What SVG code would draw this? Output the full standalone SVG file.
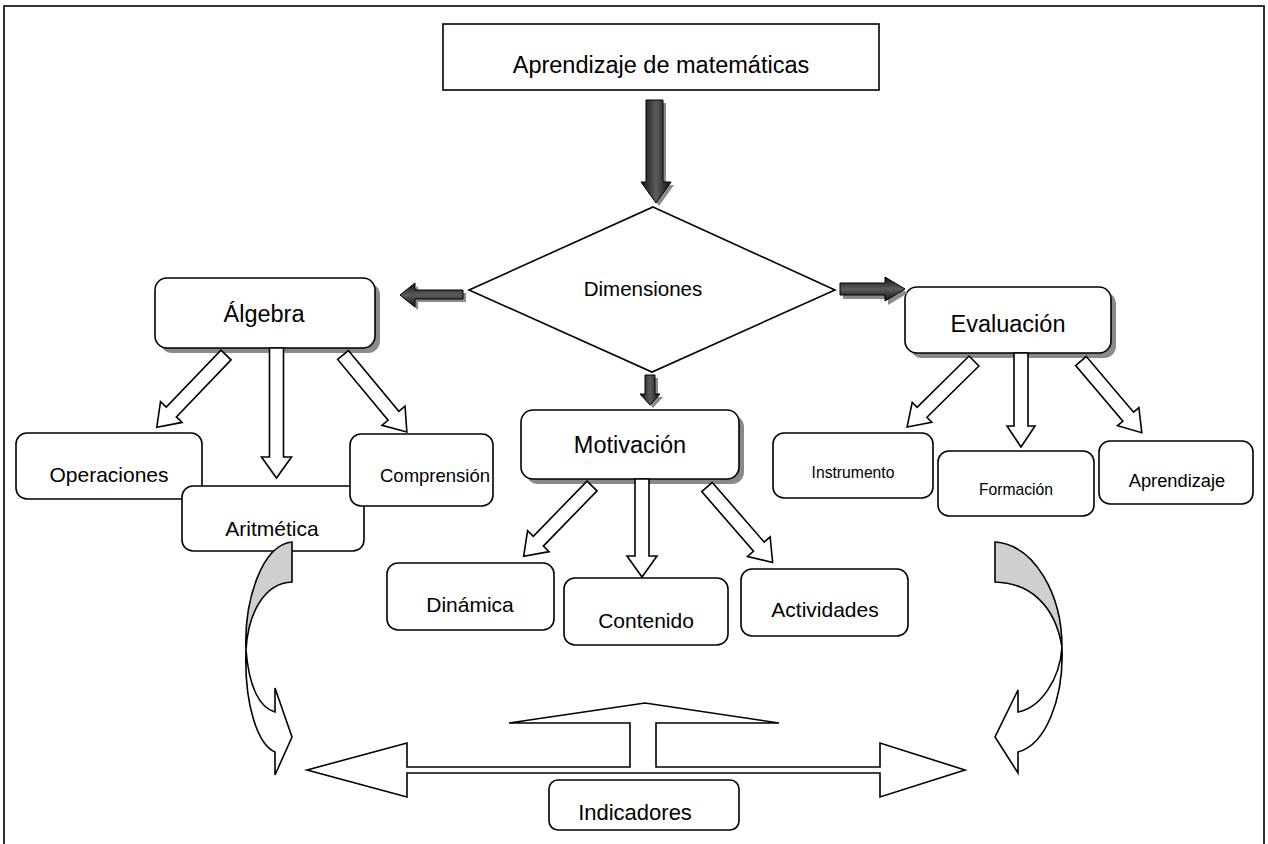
<svg xmlns="http://www.w3.org/2000/svg" width="1268" height="844" viewBox="0 0 1268 844">
<defs>
<style>
.box{fill:#fff;stroke:#000;stroke-width:1.6}
.shadow{fill:#8a8a8a;stroke:none}
.t{font-family:"Liberation Sans",Arial,sans-serif;fill:#000;text-anchor:middle}
.ha{fill:#fff;stroke:#000;stroke-width:1.6;stroke-linejoin:miter}
.dshadow{fill:#8a8a8a;stroke:none}
.curv{stroke:#000;stroke-width:1.6;stroke-linejoin:miter}
</style>
<linearGradient id="gv" x1="0" y1="0" x2="1" y2="0">
<stop offset="0" stop-color="#111"/><stop offset="0.5" stop-color="#5c5c5c"/><stop offset="1" stop-color="#111"/>
</linearGradient>
<linearGradient id="gh" x1="0" y1="0" x2="0" y2="1">
<stop offset="0" stop-color="#111"/><stop offset="0.5" stop-color="#5c5c5c"/><stop offset="1" stop-color="#111"/>
</linearGradient>
<path id="ha100" d="M0,-7 H79 V-15 L100,0 L79,15 V7 H0 Z"/>
<path id="ha130" d="M0,-7 H109 V-15 L130,0 L109,15 V7 H0 Z"/>
<path id="ha98" d="M0,-7 H77 V-15 L98,0 L77,15 V7 H0 Z"/>
<path id="ha94" d="M0,-7 H73 V-14 L94,0 L73,14 V7 H0 Z"/>
</defs>
<rect x="4" y="6" width="1260" height="846" fill="#fff" stroke="#000" stroke-width="1.6"/>

<g id="nodes">
<g id="n-top">
<rect class="box" x="443" y="24" width="436" height="66"/>
<text class="t" x="661" y="73" font-size="23.5">Aprendizaje de matemáticas</text>
</g>
<g id="n-dimensiones">
<polygon class="box" points="653,207 835,290 652,372 469,290"/>
<text class="t" x="643" y="296" font-size="20.5">Dimensiones</text>
</g>
<g id="n-algebra">
<rect class="shadow" x="160" y="283" width="220" height="70" rx="12"/>
<rect class="box" x="155" y="278" width="220" height="70" rx="12"/>
<text class="t" x="264" y="322" font-size="23.5">Álgebra</text>
</g>
<g id="n-motivacion">
<rect class="shadow" x="526" y="415" width="218" height="69" rx="12"/>
<rect class="box" x="521" y="410" width="218" height="69" rx="12"/>
<text class="t" x="630" y="453" font-size="23.5">Motivación</text>
</g>
<g id="n-evaluacion">
<rect class="shadow" x="910" y="292" width="206" height="66" rx="12"/>
<rect class="box" x="905" y="287" width="206" height="66" rx="12"/>
<text class="t" x="1008" y="332" font-size="23.5">Evaluación</text>
</g>
<g id="n-operaciones">
<rect class="box" x="16" y="433" width="186" height="66" rx="11"/>
<text class="t" x="109" y="482" font-size="21">Operaciones</text>
</g>
<g id="n-aritmetica">
<rect class="box" x="182" y="486" width="182" height="65" rx="11"/>
<text class="t" x="272" y="536" font-size="21">Aritmética</text>
</g>
<g id="n-comprension">
<rect class="box" x="350" y="434" width="143" height="72" rx="11"/>
<text class="t" x="435" y="482" font-size="18.5">Comprensión</text>
</g>
<g id="n-dinamica">
<rect class="box" x="387" y="563" width="167" height="67" rx="11"/>
<text class="t" x="470" y="612" font-size="21">Dinámica</text>
</g>
<g id="n-contenido">
<rect class="box" x="564" y="578" width="164" height="67" rx="11"/>
<text class="t" x="646" y="628" font-size="21">Contenido</text>
</g>
<g id="n-actividades">
<rect class="box" x="741" y="569" width="167" height="67" rx="11"/>
<text class="t" x="825" y="617" font-size="21">Actividades</text>
</g>
<g id="n-instrumento">
<rect class="box" x="773" y="433" width="160" height="65" rx="11"/>
<text class="t" x="853" y="478" font-size="15.7">Instrumento</text>
</g>
<g id="n-formacion">
<rect class="box" x="938" y="451" width="156" height="65" rx="11"/>
<text class="t" x="1016" y="495" font-size="15.7">Formación</text>
</g>
<g id="n-aprendizaje">
<rect class="box" x="1099" y="441" width="154" height="63" rx="11"/>
<text class="t" x="1177" y="487" font-size="18.3">Aprendizaje</text>
</g>
<g id="n-indicadores">
<rect class="box" x="549" y="780" width="190" height="50" rx="9"/>
<text class="t" x="635" y="820" font-size="22">Indicadores</text>
</g>
</g>

<g id="connectors">
<path class="dshadow" d="M649,103 H666 V185 H674 L659,206 L644,185 H649 Z"/>
<path d="M646,100 H663 V182 H671 L656,203 L641,182 H646 Z" fill="url(#gv)" stroke="#000" stroke-width="1"/>
<path class="dshadow" d="M466,293 V302 H418 V310 L403,298 L418,286 V293 Z"/>
<path d="M463,290 V299 H415 V307 L400,295 L415,283 V290 Z" fill="url(#gh)" stroke="#000" stroke-width="1"/>
<path class="dshadow" d="M843,287 H888 V281 L908,293 L888,305 V299 H843 Z"/>
<path d="M840,283 H885 V277 L905,289 L885,301 V295 H840 Z" fill="url(#gh)" stroke="#000" stroke-width="1"/>
<path class="dshadow" d="M648,378 H658 V397 H663 L653,408 L643,397 H648 Z"/>
<path d="M645,375 H655 V394 H660 L650,405 L640,394 H645 Z" fill="url(#gv)" stroke="#000" stroke-width="1"/>

<use href="#ha100" class="ha" transform="translate(226,355) rotate(133.8)"/>
<use href="#ha130" class="ha" transform="translate(276.5,348) rotate(90)"/>
<use href="#ha100" class="ha" transform="translate(343,355) rotate(50.3)"/>
<use href="#ha98" class="ha" transform="translate(592,486) rotate(134.2)"/>
<use href="#ha98" class="ha" transform="translate(642,479) rotate(90)"/>
<use href="#ha100" class="ha" transform="translate(707,487) rotate(49)"/>
<use href="#ha94" class="ha" transform="translate(974,361) rotate(135.4)"/>
<use href="#ha94" class="ha" transform="translate(1021,353) rotate(90)"/>
<use href="#ha94" class="ha" transform="translate(1081,361) rotate(49.7)"/>

<path class="curv" fill="#fff" d="M246,650 C244,705 258,745 275,752 L275,775 L292,737 L275,688 L275,712 C260,708 249,688 246,650 Z"/>
<path class="curv" fill="#cfcfcf" d="M292,542 V582 C265,583 248,612 246,650 C244,600 262,545 292,542 Z"/>
<path class="curv" fill="#fff" d="M1062,647 C1064,700 1045,745 1018,752 L1018,773 L995,737 L1018,690 L1018,712 C1040,708 1060,680 1062,647 Z"/>
<path class="curv" fill="#cfcfcf" d="M995,542 V582 C1030,583 1055,605 1062,647 C1062,595 1035,545 995,542 Z"/>

<path class="ha" d="M307,770 L407,743 L407,767 L630,767 L630,723 L509,723 L645,703 L779,723 L656,723 L656,767 L880,767 L880,743 L965,770 L880,797 L880,773 L407,773 L407,797 Z"/>
</g>
</svg>
